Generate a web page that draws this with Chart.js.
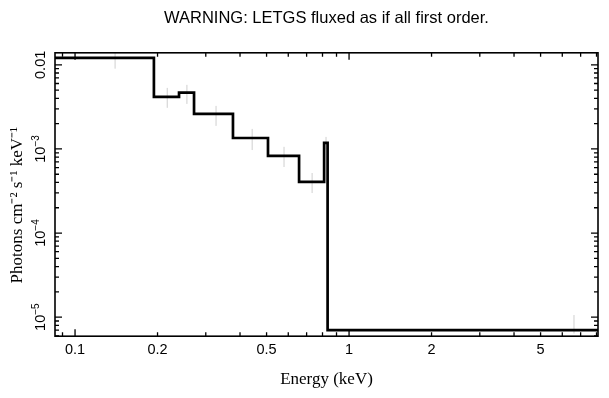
<!DOCTYPE html>
<html lang="en">
<head>
  <meta charset="UTF-8">
  <title>LETGS fluxed spectrum</title>
  <script src="https://cdn.jsdelivr.net/npm/chart.js"></script>
  <style>
    html, body { margin: 0; padding: 0; background: #fff; }
    #wrap { width: 609px; height: 398px; }
  </style>
</head>
<body>
  <div id="wrap"><canvas id="spec" width="609" height="398"></canvas></div>

  <script>
    // bin edges in keV and flux per bin (photons cm^-2 s^-1 keV^-1)
    const binEdges = [0.0845, 0.194, 0.2396, 0.2718, 0.377, 0.506, 0.657, 0.811, 0.835, 8.3];
    const binFlux = [0.0121, 0.00416, 0.00468, 0.00261, 0.00135, 8.26e-4, 4.05e-4, 1.18e-3, 7.0e-6];

    // grey error bars: energy, lower and upper end
    const errEnergy = [0.140, 0.217, 0.256, 0.327, 0.443, 0.579, 0.733, 0.824, 6.62];
    const errLow = [0.0090, 0.00308, 0.00343, 0.00188, 9.7e-4, 6.1e-4, 2.99e-4, 9.8e-4, 6.4e-6];
    const errHigh = [0.0145, 0.00532, 0.00578, 0.00325, 0.00173, 1.06e-3, 5.18e-4, 1.39e-3, 1.06e-5];

    // axes
    const xMin = 0.0845, xMax = 8.1;
    const yMin = 5.94e-6, yMax = 0.0139;
    const xTicks = [0.1, 0.2, 0.5, 1, 2, 5];
    const xTickLabels = ['0.1', '0.2', '0.5', '1', '2', '5'];
    const yTicks = [0.01, 1e-3, 1e-4, 1e-5];
    const yTickLabels = [['0.01', ''], ['10', '\u22123'], ['10', '\u22124'], ['10', '\u22125']];

    const stepPoints = binEdges.map((e, i) => ({ x: e, y: binFlux[Math.min(i, binFlux.length - 1)] }));
    const errPoints = [];
    errEnergy.forEach((e, i) => {
      errPoints.push({ x: e, y: errLow[i] }, { x: e, y: errHigh[i] }, { x: e, y: null });
    });

    // frame, inward ticks on all four sides, rotated y labels
    const framePlugin = {
      id: 'frame',
      afterDraw(chart) {
        const { ctx, chartArea: a, scales: { x, y } } = chart;
        ctx.save();
        ctx.strokeStyle = '#000';
        ctx.lineWidth = 1.6;
        ctx.strokeRect(a.left, a.top, a.right - a.left, a.bottom - a.top);

        ctx.lineWidth = 1.3;
        ctx.beginPath();
        for (let d = -2; d <= 1; d++) {
          for (let k = 1; k <= 9; k++) {
            const v = k * Math.pow(10, d);
            if (v < xMin || v > xMax) continue;
            const px = x.getPixelForValue(v);
            const len = k === 1 ? 7 : 4;
            ctx.moveTo(px, a.bottom); ctx.lineTo(px, a.bottom - len);
            ctx.moveTo(px, a.top); ctx.lineTo(px, a.top + len);
          }
        }
        for (let d = -6; d <= -2; d++) {
          for (let k = 1; k <= 9; k++) {
            const v = k * Math.pow(10, d);
            if (v < yMin || v > yMax) continue;
            const py = y.getPixelForValue(v);
            const len = k === 1 ? 7 : 4;
            ctx.moveTo(a.left, py); ctx.lineTo(a.left + len, py);
            ctx.moveTo(a.right, py); ctx.lineTo(a.right - len, py);
          }
        }
        ctx.stroke();

        // y tick labels, written sideways like the original
        ctx.fillStyle = '#000';
        ctx.textBaseline = 'middle';
        ctx.textAlign = 'left';
        const mainFont = '14.5px "Liberation Sans"';
        const supFont = '10px "Liberation Sans"';
        yTicks.forEach((v, i) => {
          const [main, sup] = yTickLabels[i];
          const py = y.getPixelForValue(v);
          ctx.font = mainFont;
          const wMain = ctx.measureText(main).width;
          ctx.font = supFont;
          const wSup = sup ? ctx.measureText(sup).width : 0;
          const start = -(wMain + wSup) / 2;
          ctx.save();
          ctx.translate(41, py);
          ctx.rotate(-Math.PI / 2);
          ctx.font = mainFont;
          ctx.fillText(main, start, 0);
          if (sup) {
            ctx.font = supFont;
            ctx.fillText(sup, start + wMain, -5);
          }
          ctx.restore();
        });
        ctx.restore();
      }
    };

    const chart = new Chart(document.getElementById('spec'), {
      type: 'line',
      data: {
        datasets: [
          {
            label: 'errors',
            data: errPoints,
            borderColor: '#cfcfcf',
            borderWidth: 1,
            pointRadius: 0,
            spanGaps: false,
            order: 2
          },
          {
            label: 'flux',
            data: stepPoints,
            stepped: 'before',
            borderColor: '#000',
            borderWidth: 2.7,
            pointRadius: 0,
            fill: false,
            order: 1
          }
        ]
      },
      options: {
        responsive: false,
        animation: false,
        devicePixelRatio: 1,
        layout: { padding: { left: 0, right: 11, top: 0, bottom: 0 } },
        plugins: {
          legend: { display: false },
          tooltip: { enabled: false },
          title: {
            display: true,
            fullSize: false,
            text: 'WARNING: LETGS fluxed as if all first order.',
            color: '#000',
            font: { family: 'Liberation Sans', size: 16.5, weight: 'normal' },
            padding: { top: 9, bottom: 24 }
          }
        },
        scales: {
          x: {
            type: 'logarithmic',
            min: xMin,
            max: xMax,
            grid: { display: false, drawTicks: false },
            border: { display: false },
            afterBuildTicks: s => { s.ticks = xTicks.map(v => ({ value: v })); },
            ticks: {
              autoSkip: false,
              maxRotation: 0,
              padding: 5,
              color: '#000',
              font: { family: 'Liberation Sans', size: 14.5 },
              callback: (v, i) => xTickLabels[i]
            },
            title: {
              display: true,
              text: 'Energy (keV)',
              color: '#000',
              font: { family: 'Liberation Serif', size: 17 },
              padding: { top: 6, bottom: 8 }
            }
          },
          y: {
            type: 'logarithmic',
            min: yMin,
            max: yMax,
            grid: { display: false, drawTicks: false },
            border: { display: false },
            ticks: { display: false },
            title: {
              display: true,
              // trailing spaces push the label down a little, as in the original
              text: 'Photons cm\u207B\u00B2 s\u207B\u00B9 keV\u207B\u00B9     ',
              color: '#000',
              font: { family: 'Liberation Serif', size: 17 },
              padding: { top: 7, bottom: 27.6 }
            }
          }
        }
      },
      plugins: [framePlugin]
    });
  </script>
</body>
</html>
